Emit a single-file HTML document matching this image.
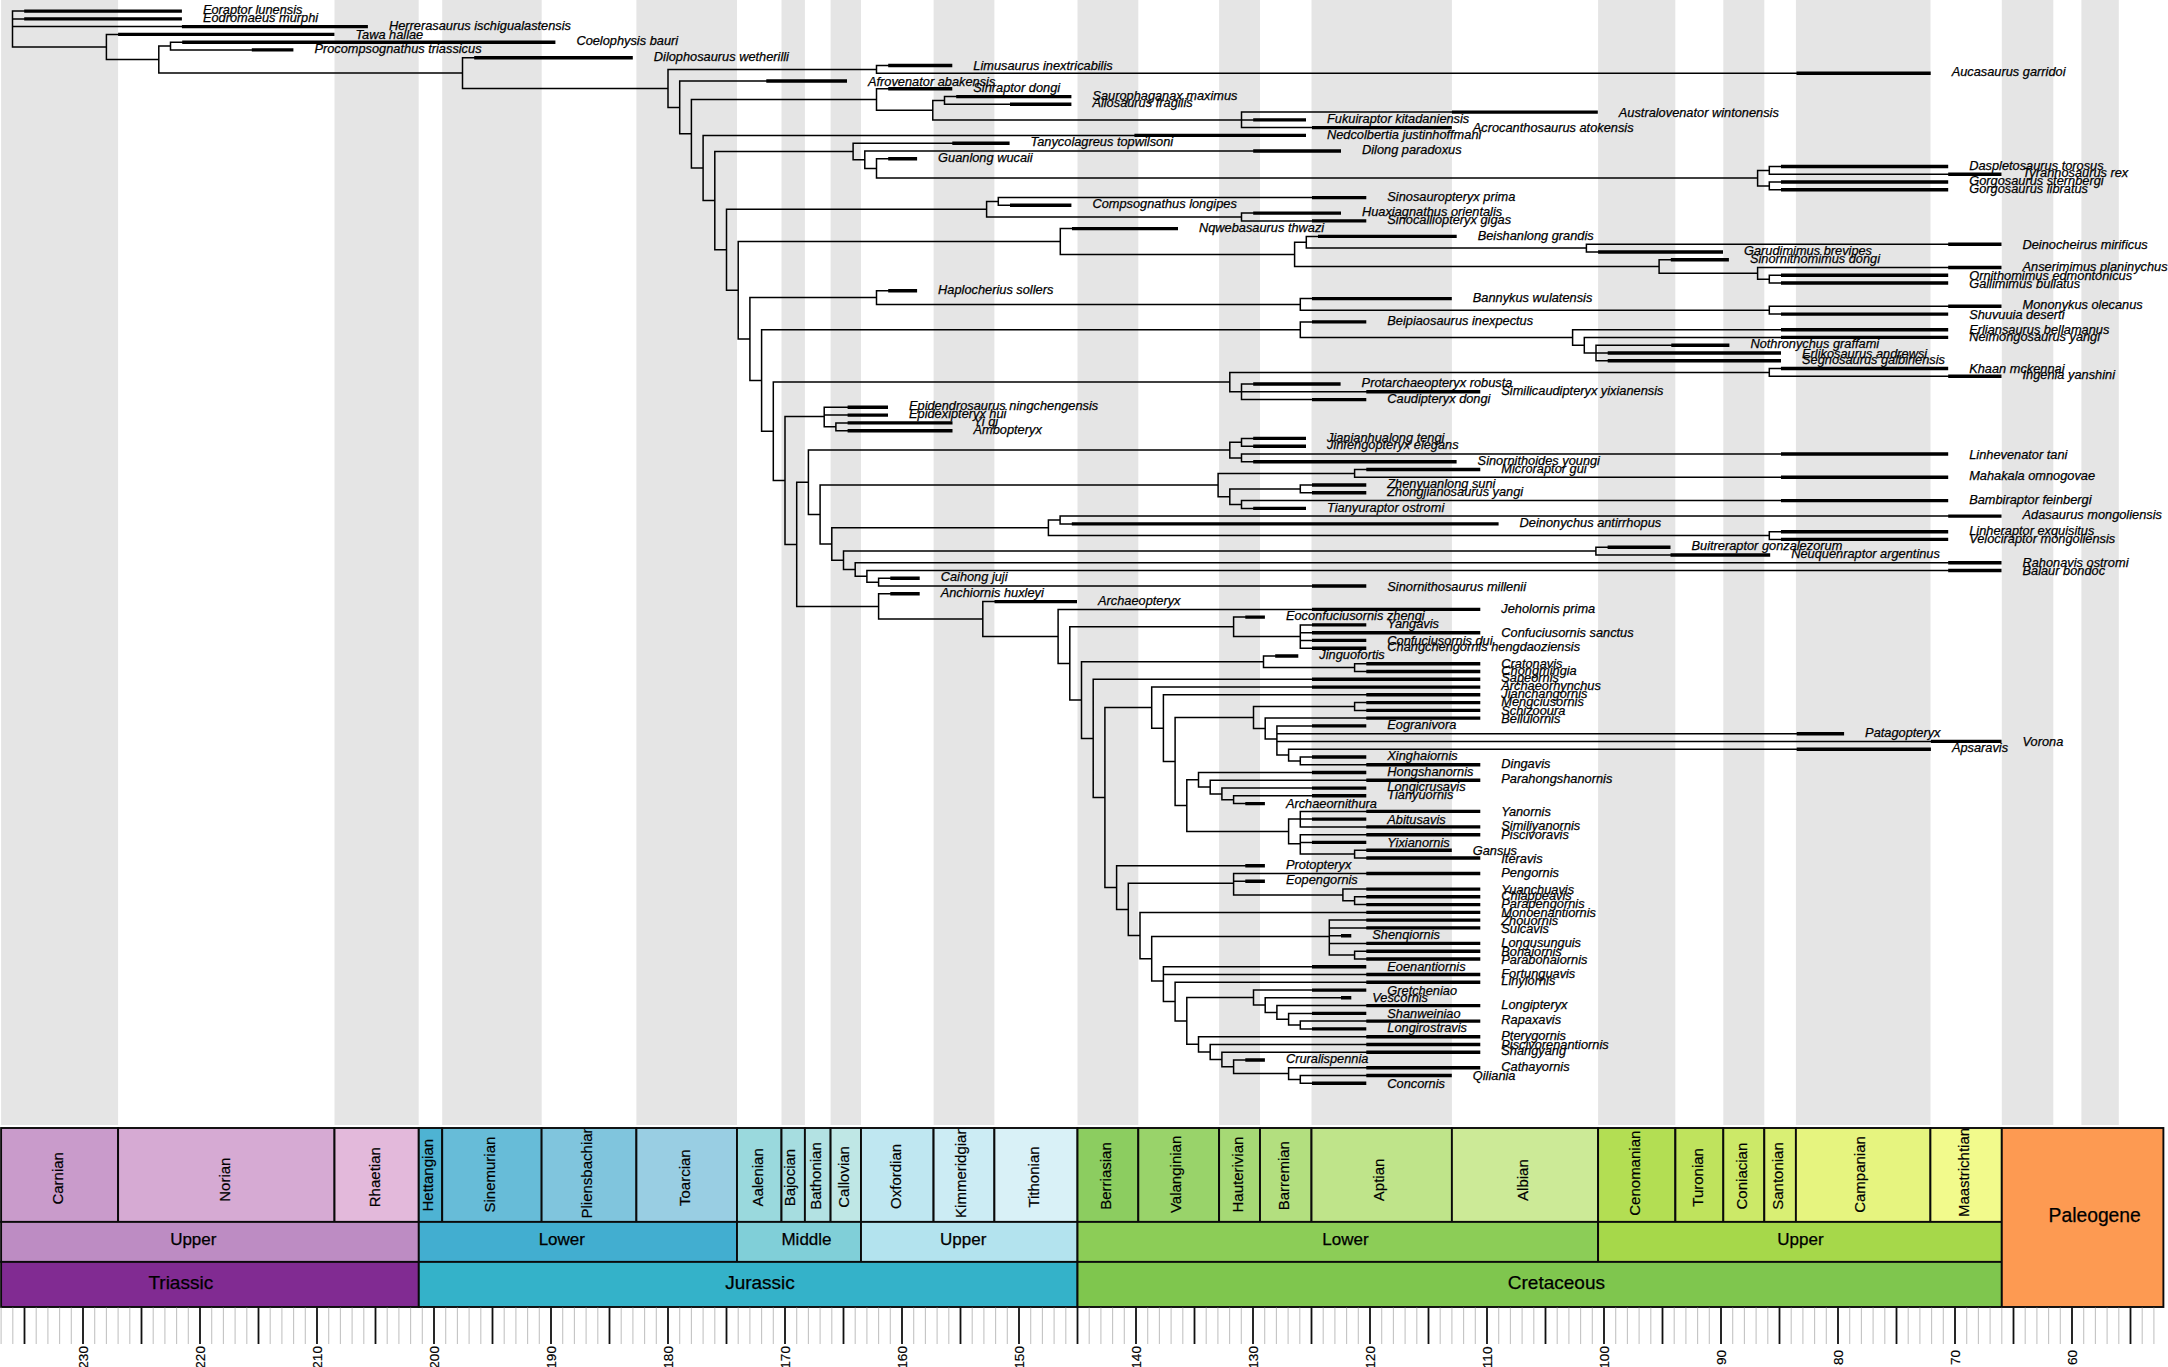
<!DOCTYPE html>
<html lang="en"><head><meta charset="utf-8"><title>Time-scaled theropod phylogeny</title>
<style>html,body{margin:0;padding:0;background:#fff}svg{display:block}text{font-family:"Liberation Sans",Arial,Helvetica,sans-serif;fill:#000}.tip{font-style:italic;font-size:12.8px;stroke:#000;stroke-width:0.25px}.st{font-size:15px;text-anchor:middle;stroke:#000;stroke-width:0.2px}.se{font-size:17px;text-anchor:middle;stroke:#000;stroke-width:0.25px}.sy{font-size:19px;text-anchor:middle;stroke:#000;stroke-width:0.25px}.ax{font-size:13.6px;text-anchor:middle;stroke:#000;stroke-width:0.2px}</style></head><body>
<svg width="2168" height="1367" viewBox="0 0 2168 1367">
<rect width="2168" height="1367" fill="#fff"/>
<g fill="#E5E5E5">
<rect x="1.1" y="0" width="117.0" height="1125.0"/>
<rect x="334.5" y="0" width="84.2" height="1125.0"/>
<rect x="442.2" y="0" width="99.5" height="1125.0"/>
<rect x="636.4" y="0" width="100.6" height="1125.0"/>
<rect x="781.5" y="0" width="23.4" height="1125.0"/>
<rect x="830.6" y="0" width="30.4" height="1125.0"/>
<rect x="933.6" y="0" width="60.8" height="1125.0"/>
<rect x="1077.5" y="0" width="60.8" height="1125.0"/>
<rect x="1219.1" y="0" width="40.9" height="1125.0"/>
<rect x="1311.5" y="0" width="140.4" height="1125.0"/>
<rect x="1598.1" y="0" width="77.2" height="1125.0"/>
<rect x="1723.3" y="0" width="41.0" height="1125.0"/>
<rect x="1795.9" y="0" width="134.6" height="1125.0"/>
<rect x="2001.8" y="0" width="51.5" height="1125.0"/>
<rect x="2081.4" y="0" width="37.4" height="1125.0"/>
</g>
<path d="M12.5 11.1V47.0M12.5 11.1H24.2M12.5 18.9H24.2M12.5 26.6H181.9M12.5 47.0H106.4M106.4 34.4V59.6M106.4 34.4H118.1M106.4 59.6H158.8M158.8 46.1V73.0M158.8 46.1H170.5M170.5 42.2V49.9M170.5 42.2H182.2M170.5 49.9H251.8M158.8 73.0H462.5M462.5 57.7V88.4M462.5 57.7H474.2M462.5 88.4H668.0M668.0 69.4V107.4M668.0 69.4H876.5M876.5 65.5V73.3M876.5 65.5H888.2M876.5 73.3H1796.5M668.0 107.4H679.7M679.7 81.0V133.7M679.7 81.0H766.3M679.7 133.7H691.4M691.4 99.5V168.0M691.4 99.5H876.5M876.5 88.8V110.2M876.5 88.8H888.2M876.5 110.2H932.8M932.8 100.5V119.9M932.8 100.5H944.5M944.5 96.6V104.3M944.5 96.6H956.2M944.5 104.3H1010.0M932.8 119.9H1241.5M1241.5 112.1V127.6M1241.5 112.1H1451.9M1241.5 119.9H1253.2M1241.5 127.6H1312.0M691.4 168.0H703.1M703.1 135.4V200.6M703.1 135.4H1134.4M703.1 200.6H714.8M714.8 151.4V249.7M714.8 151.4H853.1M853.1 143.2V159.7M853.1 143.2H952.3M853.1 159.7H864.8M864.8 151.0V168.4M864.8 151.0H1253.2M864.8 168.4H876.5M876.5 158.7V178.1M876.5 158.7H888.2M876.5 178.1H1757.6M1757.6 170.4V185.9M1757.6 170.4H1769.3M1769.3 166.5V174.3M1769.3 166.5H1781.0M1769.3 174.3H1948.2M1757.6 185.9H1769.3M1769.3 182.0V189.8M1769.3 182.0H1781.0M1769.3 189.8H1781.0M714.8 249.7H726.5M726.5 209.2V290.3M726.5 209.2H986.6M986.6 201.5V217.0M986.6 201.5H998.3M998.3 197.6V205.3M998.3 197.6H1312.0M998.3 205.3H1010.0M986.6 217.0H1241.5M1241.5 213.1V220.9M1241.5 213.1H1253.2M1241.5 220.9H1312.0M726.5 290.3H738.2M738.2 241.5V339.0M738.2 241.5H1060.3M1060.3 228.6V254.4M1060.3 228.6H1072.0M1060.3 254.4H1294.6M1294.6 242.2V266.5M1294.6 242.2H1306.3M1306.3 236.4V248.1M1306.3 236.4H1318.0M1306.3 248.1H1586.4M1586.4 244.2V252.0M1586.4 244.2H1948.2M1586.4 252.0H1598.1M1294.6 266.5H1659.1M1659.1 259.7V273.3M1659.1 259.7H1670.8M1659.1 273.3H1757.6M1757.6 267.5V279.2M1757.6 267.5H1948.2M1757.6 279.2H1769.3M1769.3 275.3V283.0M1769.3 275.3H1781.0M1769.3 283.0H1781.0M738.2 339.0H749.9M749.9 297.6V380.4M749.9 297.6H876.5M876.5 290.8V304.4M876.5 290.8H888.2M876.5 304.4H1300.3M1300.3 298.6V310.2M1300.3 298.6H1312.0M1300.3 310.2H1769.3M1769.3 306.3V314.1M1769.3 306.3H1948.2M1769.3 314.1H1781.0M749.9 380.4H761.6M761.6 329.7V431.2M761.6 329.7H1300.3M1300.3 321.9V337.4M1300.3 321.9H1312.0M1300.3 337.4H1572.6M1572.6 329.7V345.2M1572.6 329.7H1781.0M1572.6 345.2H1584.3M1584.3 337.4V353.0M1584.3 337.4H1781.0M1584.3 353.0H1596.0M1596.0 345.2V360.7M1596.0 345.2H1671.3M1596.0 353.0H1607.7M1596.0 360.7H1607.7M761.6 431.2H773.3M773.3 382.1V480.4M773.3 382.1H1229.8M1229.8 372.4V391.8M1229.8 372.4H1769.3M1769.3 368.5V376.3M1769.3 368.5H1781.0M1769.3 376.3H1948.2M1229.8 391.8H1241.5M1241.5 384.0V399.6M1241.5 384.0H1253.2M1241.5 391.8H1366.3M1241.5 399.6H1312.0M773.3 480.4H785.0M785.0 416.4V544.4M785.0 416.4H824.2M824.2 407.3V426.8M824.2 407.3H847.6M824.2 415.1H847.6M824.2 426.8H835.9M835.9 422.9V430.7M835.9 422.9H847.6M835.9 430.7H847.6M785.0 544.4H796.7M796.7 482.3V606.4M796.7 482.3H808.4M808.4 450.1V514.5M808.4 450.1H1229.8M1229.8 442.3V457.9M1229.8 442.3H1241.5M1241.5 438.4V446.2M1241.5 438.4H1253.2M1241.5 446.2H1253.2M1229.8 457.9H1241.5M1241.5 454.0V461.7M1241.5 454.0H1781.0M1241.5 461.7H1253.2M808.4 514.5H820.1M820.1 485.0V544.0M820.1 485.0H1218.1M1218.1 473.4V496.7M1218.1 473.4H1354.6M1354.6 469.5V477.3M1354.6 469.5H1366.3M1354.6 477.3H1781.0M1218.1 496.7H1229.8M1229.8 488.9V504.5M1229.8 488.9H1300.3M1300.3 485.0V492.8M1300.3 485.0H1312.0M1300.3 492.8H1312.0M1229.8 504.5H1241.5M1241.5 500.6V508.4M1241.5 500.6H1781.0M1241.5 508.4H1253.2M820.1 544.0H831.8M831.8 527.8V560.3M831.8 527.8H1048.4M1048.4 520.0V535.5M1048.4 520.0H1060.1M1060.1 516.1V523.9M1060.1 516.1H1948.2M1060.1 523.9H1071.8M1048.4 535.5H1769.3M1769.3 531.7V539.4M1769.3 531.7H1781.0M1769.3 539.4H1781.0M831.8 560.3H843.5M843.5 551.1V569.5M843.5 551.1H1595.9M1595.9 547.2V555.0M1595.9 547.2H1607.6M1595.9 555.0H1670.5M843.5 569.5H855.2M855.2 562.7V576.3M855.2 562.7H1948.2M855.2 576.3H866.9M866.9 570.5V582.2M866.9 570.5H1948.2M866.9 582.2H878.6M878.6 578.3V586.0M878.6 578.3H890.3M878.6 586.0H1312.0M796.7 606.4H878.6M878.6 593.8V619.0M878.6 593.8H890.3M878.6 619.0H982.8M982.8 601.6V636.4M982.8 601.6H994.5M982.8 636.4H1058.1M1058.1 609.4V663.5M1058.1 609.4H1312.0M1058.1 663.5H1069.8M1069.8 626.8V700.1M1069.8 626.8H1233.6M1233.6 617.1V636.6M1233.6 617.1H1245.3M1233.6 636.6H1300.3M1300.3 624.9V648.2M1300.3 624.9H1312.0M1300.3 632.7H1312.0M1300.3 640.4H1312.0M1300.3 648.2H1312.0M1069.8 700.1H1081.5M1081.5 661.8V738.4M1081.5 661.8H1263.5M1263.5 656.0V667.6M1263.5 656.0H1275.2M1263.5 667.6H1354.6M1354.6 663.7V671.5M1354.6 663.7H1366.3M1354.6 671.5H1366.3M1081.5 738.4H1093.2M1093.2 679.3V797.6M1093.2 679.3H1312.0M1093.2 797.6H1104.9M1104.9 707.6V887.6M1104.9 707.6H1151.7M1151.7 687.1V728.2M1151.7 687.1H1312.0M1151.7 728.2H1163.4M1163.4 694.8V761.6M1163.4 694.8H1366.3M1163.4 761.6H1175.1M1175.1 717.5V805.6M1175.1 717.5H1253.5M1253.5 706.5V728.6M1253.5 706.5H1354.6M1354.6 702.6V710.4M1354.6 702.6H1366.3M1354.6 710.4H1366.3M1253.5 728.6H1265.2M1265.2 718.1V739.0M1265.2 718.1H1366.3M1265.2 739.0H1276.9M1276.9 725.9V755.0M1276.9 725.9H1312.0M1276.9 733.7H1796.7M1276.9 741.4H1930.9M1276.9 755.0H1288.6M1288.6 749.2V760.9M1288.6 749.2H1796.7M1288.6 760.9H1300.3M1300.3 757.0V764.7M1300.3 757.0H1312.0M1300.3 764.7H1366.3M1175.1 805.6H1186.8M1186.8 779.8V831.4M1186.8 779.8H1198.5M1198.5 772.5V787.1M1198.5 772.5H1312.0M1198.5 787.1H1210.2M1210.2 780.3V793.9M1210.2 780.3H1366.3M1210.2 793.9H1221.9M1221.9 788.1V799.7M1221.9 788.1H1312.0M1221.9 799.7H1233.6M1233.6 795.8V803.6M1233.6 795.8H1312.0M1233.6 803.6H1245.3M1186.8 831.4H1288.6M1288.6 819.1V843.7M1288.6 819.1H1300.3M1300.3 811.4V826.9M1300.3 811.4H1366.3M1300.3 819.1H1312.0M1300.3 826.9H1366.3M1288.6 843.7H1300.3M1300.3 834.7V854.1M1300.3 834.7H1366.3M1300.3 842.4H1312.0M1300.3 854.1H1354.6M1354.6 850.2V858.0M1354.6 850.2H1366.3M1354.6 858.0H1366.3M1104.9 887.6H1116.6M1116.6 865.8V909.4M1116.6 865.8H1245.3M1116.6 909.4H1128.3M1128.3 883.2V935.5M1128.3 883.2H1233.6M1233.6 873.5V894.9M1233.6 873.5H1366.3M1233.6 881.3H1245.3M1233.6 894.9H1342.9M1342.9 889.1V900.7M1342.9 889.1H1366.3M1342.9 900.7H1354.6M1354.6 896.8V904.6M1354.6 896.8H1366.3M1354.6 904.6H1366.3M1128.3 935.5H1140.0M1140.0 912.4V958.7M1140.0 912.4H1366.3M1140.0 958.7H1151.7M1151.7 936.5V981.0M1151.7 936.5H1329.3M1329.3 920.1V955.1M1329.3 920.1H1366.3M1329.3 927.9H1366.3M1329.3 935.7H1341.0M1329.3 943.4H1366.3M1329.3 955.1H1354.6M1354.6 951.2V959.0M1354.6 951.2H1366.3M1354.6 959.0H1366.3M1151.7 981.0H1163.4M1163.4 966.8V1001.6M1163.4 966.8H1312.0M1163.4 974.5H1366.3M1163.4 1001.6H1175.1M1175.1 982.3V1021.0M1175.1 982.3H1366.3M1175.1 1021.0H1186.8M1186.8 997.6V1044.3M1186.8 997.6H1253.5M1253.5 990.1V1005.1M1253.5 990.1H1312.0M1253.5 1005.1H1265.2M1265.2 997.8V1012.4M1265.2 997.8H1341.0M1265.2 1012.4H1276.9M1276.9 1005.6V1019.2M1276.9 1005.6H1366.3M1276.9 1019.2H1288.6M1288.6 1013.4V1025.0M1288.6 1013.4H1312.0M1288.6 1025.0H1300.3M1300.3 1021.1V1028.9M1300.3 1021.1H1366.3M1300.3 1028.9H1312.0M1186.8 1044.3H1198.5M1198.5 1036.7V1052.0M1198.5 1036.7H1366.3M1198.5 1052.0H1210.2M1210.2 1044.5V1059.5M1210.2 1044.5H1366.3M1210.2 1059.5H1221.9M1221.9 1052.2V1066.8M1221.9 1052.2H1366.3M1221.9 1066.8H1233.6M1233.6 1060.0V1073.6M1233.6 1060.0H1245.3M1233.6 1073.6H1288.6M1288.6 1067.8V1079.4M1288.6 1067.8H1366.3M1288.6 1079.4H1300.3M1300.3 1075.5V1083.3M1300.3 1075.5H1366.3M1300.3 1083.3H1312.0" fill="none" stroke="#000" stroke-width="1.5" stroke-linecap="square"/>
<path d="M24.2 11.1H181.9M24.2 18.9H181.9M181.9 26.6H367.9M118.1 34.4H334.4M182.2 42.2H555.4M251.8 49.9H293.4M474.2 57.7H632.8M888.2 65.5H952.3M1796.5 73.3H1930.7M766.3 81.0H847.0M888.2 88.8H952.3M956.2 96.6H1071.4M1010.0 104.3H1071.4M1451.9 112.1H1597.8M1253.2 119.9H1306.0M1312.0 127.6H1451.8M1134.4 135.4H1306.0M952.3 143.2H1009.6M1253.2 151.0H1341.0M888.2 158.7H917.1M1781.0 166.5H1948.2M1948.2 174.3H2001.5M1781.0 182.0H1948.2M1781.0 189.8H1948.2M1312.0 197.6H1366.3M1010.0 205.3H1071.4M1253.2 213.1H1341.0M1312.0 220.9H1366.3M1072.0 228.6H1178.0M1318.0 236.4H1456.7M1948.2 244.2H2001.5M1598.1 252.0H1723.0M1670.8 259.7H1728.9M1948.2 267.5H2001.5M1781.0 275.3H1948.2M1781.0 283.0H1948.2M888.2 290.8H917.1M1312.0 298.6H1451.8M1948.2 306.3H2001.5M1781.0 314.1H1948.2M1312.0 321.9H1366.3M1781.0 329.7H1948.2M1781.0 337.4H1948.2M1671.3 345.2H1729.4M1607.7 353.0H1781.0M1607.7 360.7H1781.0M1781.0 368.5H1948.2M1948.2 376.3H2001.5M1253.2 384.0H1340.6M1366.3 391.8H1480.3M1312.0 399.6H1366.3M847.6 407.3H888.0M847.6 415.1H888.0M847.6 422.9H952.5M847.6 430.7H952.5M1253.2 438.4H1306.0M1253.2 446.2H1306.0M1781.0 454.0H1948.2M1253.2 461.7H1456.6M1366.3 469.5H1480.3M1781.0 477.3H1948.2M1312.0 485.0H1366.3M1312.0 492.8H1366.3M1781.0 500.6H1948.2M1253.2 508.4H1306.0M1948.2 516.1H2001.5M1071.8 523.9H1498.6M1781.0 531.7H1948.2M1781.0 539.4H1948.2M1607.6 547.2H1670.5M1670.5 555.0H1770.2M1948.2 562.7H2001.5M1948.2 570.5H2001.5M890.3 578.3H919.7M1312.0 586.0H1366.3M890.3 593.8H919.7M994.5 601.6H1077.0M1312.0 609.4H1480.3M1245.3 617.1H1264.9M1312.0 624.9H1366.3M1312.0 632.7H1480.3M1312.0 640.4H1366.3M1312.0 648.2H1366.3M1275.2 656.0H1298.3M1366.3 663.7H1480.3M1366.3 671.5H1480.3M1312.0 679.3H1480.3M1312.0 687.1H1480.3M1366.3 694.8H1480.3M1366.3 702.6H1480.3M1366.3 710.4H1480.3M1366.3 718.1H1480.3M1312.0 725.9H1366.3M1796.7 733.7H1844.1M1930.9 741.4H2001.5M1796.7 749.2H1930.9M1312.0 757.0H1366.3M1366.3 764.7H1480.3M1312.0 772.5H1366.3M1366.3 780.3H1480.3M1312.0 788.1H1366.3M1312.0 795.8H1366.3M1245.3 803.6H1264.9M1366.3 811.4H1480.3M1312.0 819.1H1366.3M1366.3 826.9H1480.3M1366.3 834.7H1480.3M1312.0 842.4H1366.3M1366.3 850.2H1451.8M1366.3 858.0H1480.3M1245.3 865.8H1264.9M1366.3 873.5H1480.3M1245.3 881.3H1264.9M1366.3 889.1H1480.3M1366.3 896.8H1480.3M1366.3 904.6H1480.3M1366.3 912.4H1480.3M1366.3 920.1H1480.3M1366.3 927.9H1480.3M1341.0 935.7H1351.3M1366.3 943.4H1480.3M1366.3 951.2H1480.3M1366.3 959.0H1480.3M1312.0 966.8H1366.3M1366.3 974.5H1480.3M1366.3 982.3H1480.3M1312.0 990.1H1366.3M1341.0 997.8H1351.3M1366.3 1005.6H1480.3M1312.0 1013.4H1366.3M1366.3 1021.1H1480.3M1312.0 1028.9H1366.3M1366.3 1036.7H1480.3M1366.3 1044.5H1480.3M1366.3 1052.2H1480.3M1245.3 1060.0H1264.9M1366.3 1067.8H1480.3M1366.3 1075.5H1451.8M1312.0 1083.3H1366.3" fill="none" stroke="#000" stroke-width="3.4" stroke-linecap="butt"/>
<g class="tip">
<text x="202.9" y="14.2">Eoraptor lunensis</text>
<text x="202.9" y="22.0">Eodromaeus murphi</text>
<text x="388.9" y="29.7">Herrerasaurus ischigualastensis</text>
<text x="355.4" y="39.0">Tawa hallae</text>
<text x="576.4" y="45.3">Coelophysis bauri</text>
<text x="314.4" y="53.0">Procompsognathus triassicus</text>
<text x="653.8" y="60.8">Dilophosaurus wetherilli</text>
<text x="973.3" y="70.1">Limusaurus inextricabilis</text>
<text x="1951.7" y="76.4">Aucasaurus garridoi</text>
<text x="868.0" y="85.6">Afrovenator abakensis</text>
<text x="973.3" y="91.9">Sinraptor dongi</text>
<text x="1092.4" y="99.7">Saurophaganax maximus</text>
<text x="1092.4" y="107.4">Allosaurus fragilis</text>
<text x="1618.8" y="116.7">Australovenator wintonensis</text>
<text x="1327.0" y="123.0">Fukuiraptor kitadaniensis</text>
<text x="1472.8" y="132.2">Acrocanthosaurus atokensis</text>
<text x="1327.0" y="138.5">Nedcolbertia justinhoffmani</text>
<text x="1030.6" y="146.3">Tanycolagreus topwilsoni</text>
<text x="1362.0" y="154.1">Dilong paradoxus</text>
<text x="938.1" y="161.8">Guanlong wucaii</text>
<text x="1969.2" y="169.6">Daspletosaurus torosus</text>
<text x="2022.5" y="177.4">Tyrannosaurus rex</text>
<text x="1969.2" y="185.1">Gorgosaurus sternbergi</text>
<text x="1969.2" y="192.9">Gorgosaurus libratus</text>
<text x="1387.3" y="200.7">Sinosauropteryx prima</text>
<text x="1092.4" y="208.4">Compsognathus longipes</text>
<text x="1362.0" y="216.2">Huaxiagnathus orientalis</text>
<text x="1387.3" y="224.0">Sinocalliopteryx gigas</text>
<text x="1199.0" y="231.7">Nqwebasaurus thwazi</text>
<text x="1477.7" y="239.5">Beishanlong grandis</text>
<text x="2022.5" y="248.8">Deinocheirus mirificus</text>
<text x="1744.0" y="255.1">Garudimimus brevipes</text>
<text x="1749.9" y="262.8">Sinornithomimus dongi</text>
<text x="2022.5" y="270.6">Anserimimus planinychus</text>
<text x="1969.2" y="279.9">Ornithomimus edmontonicus</text>
<text x="1969.2" y="287.6">Gallimimus bullatus</text>
<text x="938.1" y="293.9">Haplocherius sollers</text>
<text x="1472.8" y="301.7">Bannykus wulatensis</text>
<text x="2022.5" y="309.4">Mononykus olecanus</text>
<text x="1969.2" y="318.7">Shuvuuia deserti</text>
<text x="1387.3" y="325.0">Beipiaosaurus inexpectus</text>
<text x="1969.2" y="334.3">Erliansaurus bellamanus</text>
<text x="1969.2" y="340.5">Neimongosaurus yangi</text>
<text x="1750.4" y="348.3">Nothronychus graffami</text>
<text x="1802.0" y="357.6">Erlikosaurus andrewsi</text>
<text x="1802.0" y="363.8">Segnosaurus galbinensis</text>
<text x="1969.2" y="373.1">Khaan mckennai</text>
<text x="2022.5" y="379.4">Ingenia yanshini</text>
<text x="1361.6" y="387.1">Protarchaeopteryx robusta</text>
<text x="1501.3" y="394.9">Similicaudipteryx yixianensis</text>
<text x="1387.3" y="402.7">Caudipteryx dongi</text>
<text x="909.0" y="410.4">Epidendrosaurus ningchengensis</text>
<text x="909.0" y="418.2">Epidexipteryx hui</text>
<text x="973.5" y="426.0">Yi qi</text>
<text x="973.5" y="433.8">Ambopteryx</text>
<text x="1327.0" y="441.5">Jianianhualong tengi</text>
<text x="1327.0" y="449.3">Jinfengopteryx elegans</text>
<text x="1969.2" y="458.6">Linhevenator tani</text>
<text x="1477.6" y="464.8">Sinornithoides youngi</text>
<text x="1501.3" y="472.6">Microraptor gui</text>
<text x="1969.2" y="480.4">Mahakala omnogovae</text>
<text x="1387.3" y="488.1">Zhenyuanlong suni</text>
<text x="1387.3" y="495.9">Zhongjianosaurus yangi</text>
<text x="1969.2" y="503.7">Bambiraptor feinbergi</text>
<text x="1327.0" y="511.5">Tianyuraptor ostromi</text>
<text x="2022.5" y="519.2">Adasaurus mongoliensis</text>
<text x="1519.6" y="527.0">Deinonychus antirrhopus</text>
<text x="1969.2" y="534.8">Linheraptor exquisitus</text>
<text x="1969.2" y="542.5">Velociraptor mongoliensis</text>
<text x="1691.5" y="550.3">Buitreraptor gonzalezorum</text>
<text x="1791.2" y="558.1">Neuquenraptor argentinus</text>
<text x="2022.5" y="567.3">Rahonavis ostromi</text>
<text x="2022.5" y="575.1">Balaur bondoc</text>
<text x="940.7" y="581.4">Caihong juji</text>
<text x="1387.3" y="590.6">Sinornithosaurus millenii</text>
<text x="940.7" y="596.9">Anchiornis huxleyi</text>
<text x="1098.0" y="604.7">Archaeopteryx</text>
<text x="1501.3" y="612.5">Jeholornis prima</text>
<text x="1285.9" y="620.2">Eoconfuciusornis zhengi</text>
<text x="1387.3" y="628.0">Yangavis</text>
<text x="1501.3" y="637.3">Confuciusornis sanctus</text>
<text x="1387.3" y="645.0">Confuciusornis dui</text>
<text x="1387.3" y="651.3">Changchengornis hengdaoziensis</text>
<text x="1319.3" y="659.1">Jinguofortis</text>
<text x="1501.3" y="668.3">Cratonavis</text>
<text x="1501.3" y="674.6">Chongmingia</text>
<text x="1501.3" y="682.4">Sapeornis</text>
<text x="1501.3" y="690.2">Archaeorhynchus</text>
<text x="1501.3" y="697.9">Jianchangornis</text>
<text x="1501.3" y="705.7">Mengciusornis</text>
<text x="1501.3" y="715.0">Schizooura</text>
<text x="1501.3" y="722.7">Bellulornis</text>
<text x="1387.3" y="729.0">Eogranivora</text>
<text x="1865.1" y="736.8">Patagopteryx</text>
<text x="2022.5" y="746.0">Vorona</text>
<text x="1951.9" y="752.3">Apsaravis</text>
<text x="1387.3" y="760.1">Xinghaiornis</text>
<text x="1501.3" y="767.8">Dingavis</text>
<text x="1387.3" y="775.6">Hongshanornis</text>
<text x="1501.3" y="783.4">Parahongshanornis</text>
<text x="1387.3" y="791.2">Longicrusavis</text>
<text x="1387.3" y="798.9">Tianyuornis</text>
<text x="1285.9" y="808.2">Archaeornithura</text>
<text x="1501.3" y="816.0">Yanornis</text>
<text x="1387.3" y="823.7">Abitusavis</text>
<text x="1501.3" y="830.0">Similiyanornis</text>
<text x="1501.3" y="839.3">Piscivoravis</text>
<text x="1387.3" y="847.0">Yixianornis</text>
<text x="1472.8" y="854.8">Gansus</text>
<text x="1501.3" y="862.6">Iteravis</text>
<text x="1285.9" y="868.9">Protopteryx</text>
<text x="1501.3" y="876.6">Pengornis</text>
<text x="1285.9" y="884.4">Eopengornis</text>
<text x="1501.3" y="893.7">Yuanchuavis</text>
<text x="1501.3" y="899.9">Chiappeavis</text>
<text x="1501.3" y="907.7">Parapengornis</text>
<text x="1501.3" y="917.0">Monoenantiornis</text>
<text x="1501.3" y="924.7">Zhouornis</text>
<text x="1501.3" y="932.5">Sulcavis</text>
<text x="1372.3" y="938.8">Shenqiornis</text>
<text x="1501.3" y="946.5">Longusunguis</text>
<text x="1501.3" y="955.8">Bohaiornis</text>
<text x="1501.3" y="963.6">Parabohaiornis</text>
<text x="1387.3" y="971.4">Eoenantiornis</text>
<text x="1501.3" y="977.6">Fortunguavis</text>
<text x="1501.3" y="985.4">Linyiornis</text>
<text x="1387.3" y="994.7">Gretcheniao</text>
<text x="1372.3" y="1002.4">Vescornis</text>
<text x="1501.3" y="1008.7">Longipteryx</text>
<text x="1387.3" y="1018.0">Shanweiniao</text>
<text x="1501.3" y="1024.2">Rapaxavis</text>
<text x="1387.3" y="1032.0">Longirostravis</text>
<text x="1501.3" y="1039.8">Pterygornis</text>
<text x="1501.3" y="1049.1">Piscivorenantiornis</text>
<text x="1501.3" y="1055.3">Shangyang</text>
<text x="1285.9" y="1063.1">Cruralispennia</text>
<text x="1501.3" y="1070.9">Cathayornis</text>
<text x="1472.8" y="1079.5">Qiliania</text>
<text x="1387.3" y="1087.9">Concornis</text>
</g>
<g stroke="#0a0a0a" stroke-width="1.9">
<rect x="1.1" y="1128.0" width="117.0" height="93.9" fill="#C99BCB"/>
<rect x="118.1" y="1128.0" width="216.4" height="93.9" fill="#D6AAD3"/>
<rect x="334.5" y="1128.0" width="84.2" height="93.9" fill="#E3B9DB"/>
<rect x="418.8" y="1128.0" width="23.4" height="93.9" fill="#4EB3D3"/>
<rect x="442.2" y="1128.0" width="99.5" height="93.9" fill="#67BCD8"/>
<rect x="541.6" y="1128.0" width="94.8" height="93.9" fill="#80C5DD"/>
<rect x="636.4" y="1128.0" width="100.6" height="93.9" fill="#99CEE3"/>
<rect x="737.0" y="1128.0" width="44.5" height="93.9" fill="#9AD9DD"/>
<rect x="781.5" y="1128.0" width="23.4" height="93.9" fill="#A6DDE0"/>
<rect x="804.9" y="1128.0" width="25.7" height="93.9" fill="#B3E2E3"/>
<rect x="830.6" y="1128.0" width="30.4" height="93.9" fill="#BFE7E5"/>
<rect x="861.0" y="1128.0" width="72.5" height="93.9" fill="#BFE7F1"/>
<rect x="933.6" y="1128.0" width="60.8" height="93.9" fill="#CCECF4"/>
<rect x="994.4" y="1128.0" width="83.1" height="93.9" fill="#D9F1F7"/>
<rect x="1077.5" y="1128.0" width="60.8" height="93.9" fill="#8CCD60"/>
<rect x="1138.3" y="1128.0" width="80.7" height="93.9" fill="#99D36A"/>
<rect x="1219.1" y="1128.0" width="40.9" height="93.9" fill="#A6D975"/>
<rect x="1260.0" y="1128.0" width="51.5" height="93.9" fill="#B3DF7F"/>
<rect x="1311.5" y="1128.0" width="140.4" height="93.9" fill="#BFE48A"/>
<rect x="1451.9" y="1128.0" width="146.2" height="93.9" fill="#CCEA97"/>
<rect x="1598.1" y="1128.0" width="77.2" height="93.9" fill="#B3DE53"/>
<rect x="1675.4" y="1128.0" width="48.0" height="93.9" fill="#BFE35D"/>
<rect x="1723.3" y="1128.0" width="41.0" height="93.9" fill="#CCE968"/>
<rect x="1764.3" y="1128.0" width="31.6" height="93.9" fill="#D9EF74"/>
<rect x="1795.9" y="1128.0" width="134.6" height="93.9" fill="#E6F47F"/>
<rect x="1930.4" y="1128.0" width="71.4" height="93.9" fill="#F2FA8C"/>
<rect x="1.1" y="1221.9" width="417.7" height="40.0" fill="#BD8CC3"/>
<rect x="418.8" y="1221.9" width="318.2" height="40.0" fill="#42AED0"/>
<rect x="737.0" y="1221.9" width="124.0" height="40.0" fill="#80CFD8"/>
<rect x="861.0" y="1221.9" width="216.5" height="40.0" fill="#B3E3EE"/>
<rect x="1077.5" y="1221.9" width="520.6" height="40.0" fill="#8CCD57"/>
<rect x="1598.1" y="1221.9" width="403.7" height="40.0" fill="#A6D84A"/>
<rect x="1.1" y="1261.9" width="417.7" height="45.1" fill="#812B92"/>
<rect x="418.8" y="1261.9" width="658.7" height="45.1" fill="#34B2C9"/>
<rect x="1077.5" y="1261.9" width="924.3" height="45.1" fill="#7FC64E"/>
<rect x="2001.8" y="1128.0" width="161.6" height="179.0" fill="#FD9A52"/>
</g>
<clipPath id="c"><rect x="0" y="1128.7" width="2168" height="92.5"/></clipPath>
<g class="st" clip-path="url(#c)">
<text transform="translate(59.6 1178.3) rotate(-90)" y="3.3">Carnian</text>
<text transform="translate(226.3 1179.7) rotate(-90)" y="3.3">Norian</text>
<text transform="translate(376.7 1177.2) rotate(-90)" y="3.3">Rhaetian</text>
<text transform="translate(430.5 1175.2) rotate(-90)" y="2.0">Hettangian</text>
<text transform="translate(491.9 1174.6) rotate(-90)" y="3.3">Sinemurian</text>
<text transform="translate(589.0 1171.8) rotate(-90)" y="3.3">Pliensbachian</text>
<text transform="translate(686.7 1177.7) rotate(-90)" y="3.3">Toarcian</text>
<text transform="translate(759.3 1177.4) rotate(-90)" y="3.3">Aalenian</text>
<text transform="translate(793.2 1177.6) rotate(-90)" y="2.0">Bajocian</text>
<text transform="translate(817.8 1176.0) rotate(-90)" y="3.3">Bathonian</text>
<text transform="translate(845.8 1176.9) rotate(-90)" y="3.3">Callovian</text>
<text transform="translate(897.3 1176.4) rotate(-90)" y="3.3">Oxfordian</text>
<text transform="translate(964.0 1172.1) rotate(-90)" y="2.0">Kimmeridgian</text>
<text transform="translate(1036.0 1177.0) rotate(-90)" y="3.3">Tithonian</text>
<text transform="translate(1107.9 1176.0) rotate(-90)" y="3.3">Berriasian</text>
<text transform="translate(1178.7 1174.4) rotate(-90)" y="2.0">Valanginian</text>
<text transform="translate(1239.5 1174.6) rotate(-90)" y="3.3">Hauterivian</text>
<text transform="translate(1285.8 1175.7) rotate(-90)" y="3.3">Barremian</text>
<text transform="translate(1381.7 1179.9) rotate(-90)" y="2.0">Aptian</text>
<text transform="translate(1525.0 1180.1) rotate(-90)" y="3.3">Albian</text>
<text transform="translate(1636.8 1173.2) rotate(-90)" y="3.3">Cenomanian</text>
<text transform="translate(1699.4 1177.4) rotate(-90)" y="3.3">Turonian</text>
<text transform="translate(1743.8 1176.1) rotate(-90)" y="3.3">Coniacian</text>
<text transform="translate(1780.1 1176.0) rotate(-90)" y="3.3">Santonian</text>
<text transform="translate(1863.2 1174.5) rotate(-90)" y="2.0">Campanian</text>
<text transform="translate(1966.1 1172.5) rotate(-90)" y="3.3">Maastrichtian</text>
</g>
<g class="se">
<text x="193.3" y="1245.0">Upper</text>
<text x="561.8" y="1245.0">Lower</text>
<text x="806.5" y="1245.0">Middle</text>
<text x="963.2" y="1245.0">Upper</text>
<text x="1345.5" y="1245.0">Lower</text>
<text x="1800.5" y="1245.0">Upper</text>
</g><g class="sy">
<text x="180.8" y="1288.9">Triassic</text>
<text x="760.0" y="1288.9">Jurassic</text>
<text x="1556.4" y="1288.9">Cretaceous</text>
<text x="2094.7" y="1221.5" style="font-size:19.3px">Paleogene</text>
</g>
<path d="M1.1 1307.7V1344M12.8 1307.7V1344M36.2 1307.7V1344M47.9 1307.7V1344M59.6 1307.7V1344M71.3 1307.7V1344M94.7 1307.7V1344M106.4 1307.7V1344M118.1 1307.7V1344M129.8 1307.7V1344M153.2 1307.7V1344M164.9 1307.7V1344M176.6 1307.7V1344M188.3 1307.7V1344M211.7 1307.7V1344M223.4 1307.7V1344M235.1 1307.7V1344M246.8 1307.7V1344M270.2 1307.7V1344M281.9 1307.7V1344M293.6 1307.7V1344M305.3 1307.7V1344M328.7 1307.7V1344M340.4 1307.7V1344M352.1 1307.7V1344M363.8 1307.7V1344M387.2 1307.7V1344M398.9 1307.7V1344M410.6 1307.7V1344M422.3 1307.7V1344M445.7 1307.7V1344M457.4 1307.7V1344M469.1 1307.7V1344M480.8 1307.7V1344M504.2 1307.7V1344M515.9 1307.7V1344M527.6 1307.7V1344M539.3 1307.7V1344M562.7 1307.7V1344M574.4 1307.7V1344M586.1 1307.7V1344M597.8 1307.7V1344M621.2 1307.7V1344M632.9 1307.7V1344M644.6 1307.7V1344M656.3 1307.7V1344M679.7 1307.7V1344M691.4 1307.7V1344M703.1 1307.7V1344M714.8 1307.7V1344M738.2 1307.7V1344M749.9 1307.7V1344M761.6 1307.7V1344M773.3 1307.7V1344M796.7 1307.7V1344M808.4 1307.7V1344M820.1 1307.7V1344M831.8 1307.7V1344M855.2 1307.7V1344M866.9 1307.7V1344M878.6 1307.7V1344M890.3 1307.7V1344M913.7 1307.7V1344M925.4 1307.7V1344M937.1 1307.7V1344M948.8 1307.7V1344M972.2 1307.7V1344M983.9 1307.7V1344M995.6 1307.7V1344M1007.3 1307.7V1344M1030.7 1307.7V1344M1042.4 1307.7V1344M1054.1 1307.7V1344M1065.8 1307.7V1344M1089.2 1307.7V1344M1100.9 1307.7V1344M1112.6 1307.7V1344M1124.3 1307.7V1344M1147.7 1307.7V1344M1159.4 1307.7V1344M1171.1 1307.7V1344M1182.8 1307.7V1344M1206.2 1307.7V1344M1217.9 1307.7V1344M1229.6 1307.7V1344M1241.3 1307.7V1344M1264.7 1307.7V1344M1276.4 1307.7V1344M1288.1 1307.7V1344M1299.8 1307.7V1344M1323.2 1307.7V1344M1334.9 1307.7V1344M1346.6 1307.7V1344M1358.3 1307.7V1344M1381.7 1307.7V1344M1393.4 1307.7V1344M1405.1 1307.7V1344M1416.8 1307.7V1344M1440.2 1307.7V1344M1451.9 1307.7V1344M1463.6 1307.7V1344M1475.3 1307.7V1344M1498.7 1307.7V1344M1510.4 1307.7V1344M1522.1 1307.7V1344M1533.8 1307.7V1344M1557.2 1307.7V1344M1568.9 1307.7V1344M1580.6 1307.7V1344M1592.3 1307.7V1344M1615.7 1307.7V1344M1627.4 1307.7V1344M1639.1 1307.7V1344M1650.8 1307.7V1344M1674.2 1307.7V1344M1685.9 1307.7V1344M1697.6 1307.7V1344M1709.3 1307.7V1344M1732.7 1307.7V1344M1744.4 1307.7V1344M1756.1 1307.7V1344M1767.8 1307.7V1344M1791.2 1307.7V1344M1802.9 1307.7V1344M1814.6 1307.7V1344M1826.3 1307.7V1344M1849.7 1307.7V1344M1861.4 1307.7V1344M1873.1 1307.7V1344M1884.8 1307.7V1344M1908.2 1307.7V1344M1919.9 1307.7V1344M1931.6 1307.7V1344M1943.3 1307.7V1344M1966.7 1307.7V1344M1978.4 1307.7V1344M1990.1 1307.7V1344M2001.8 1307.7V1344M2025.2 1307.7V1344M2036.9 1307.7V1344M2048.6 1307.7V1344M2060.3 1307.7V1344M2083.7 1307.7V1344M2095.4 1307.7V1344M2107.1 1307.7V1344M2118.8 1307.7V1344M2142.2 1307.7V1344M2153.9 1307.7V1344" stroke="#C4C4C4" stroke-width="1.1" fill="none"/>
<path d="M24.5 1307.7V1344M83.0 1307.7V1344M141.5 1307.7V1344M200.0 1307.7V1344M258.5 1307.7V1344M317.0 1307.7V1344M375.5 1307.7V1344M434.0 1307.7V1344M492.5 1307.7V1344M551.0 1307.7V1344M609.5 1307.7V1344M668.0 1307.7V1344M726.5 1307.7V1344M785.0 1307.7V1344M843.5 1307.7V1344M902.0 1307.7V1344M960.5 1307.7V1344M1019.0 1307.7V1344M1077.5 1307.7V1344M1136.0 1307.7V1344M1194.5 1307.7V1344M1253.0 1307.7V1344M1311.5 1307.7V1344M1370.0 1307.7V1344M1428.5 1307.7V1344M1487.0 1307.7V1344M1545.5 1307.7V1344M1604.0 1307.7V1344M1662.5 1307.7V1344M1721.0 1307.7V1344M1779.5 1307.7V1344M1838.0 1307.7V1344M1896.5 1307.7V1344M1955.0 1307.7V1344M2013.5 1307.7V1344M2072.0 1307.7V1344M2130.5 1307.7V1344" stroke="#111" stroke-width="1.8" fill="none"/>
<g class="ax">
<text transform="translate(83.0 1357.4) rotate(-90)" y="4.8">230</text>
<text transform="translate(200.0 1357.4) rotate(-90)" y="4.8">220</text>
<text transform="translate(317.0 1357.4) rotate(-90)" y="4.8">210</text>
<text transform="translate(434.0 1357.4) rotate(-90)" y="4.8">200</text>
<text transform="translate(551.0 1357.4) rotate(-90)" y="4.8">190</text>
<text transform="translate(668.0 1357.4) rotate(-90)" y="4.8">180</text>
<text transform="translate(785.0 1357.4) rotate(-90)" y="4.8">170</text>
<text transform="translate(902.0 1357.4) rotate(-90)" y="4.8">160</text>
<text transform="translate(1019.0 1357.4) rotate(-90)" y="4.8">150</text>
<text transform="translate(1136.0 1357.4) rotate(-90)" y="4.8">140</text>
<text transform="translate(1253.0 1357.4) rotate(-90)" y="4.8">130</text>
<text transform="translate(1370.0 1357.4) rotate(-90)" y="4.8">120</text>
<text transform="translate(1487.0 1357.4) rotate(-90)" y="4.8">110</text>
<text transform="translate(1604.0 1357.4) rotate(-90)" y="4.8">100</text>
<text transform="translate(1721.0 1357.4) rotate(-90)" y="4.8">90</text>
<text transform="translate(1838.0 1357.4) rotate(-90)" y="4.8">80</text>
<text transform="translate(1955.0 1357.4) rotate(-90)" y="4.8">70</text>
<text transform="translate(2072.0 1357.4) rotate(-90)" y="4.8">60</text>
</g>
</svg></body></html>
